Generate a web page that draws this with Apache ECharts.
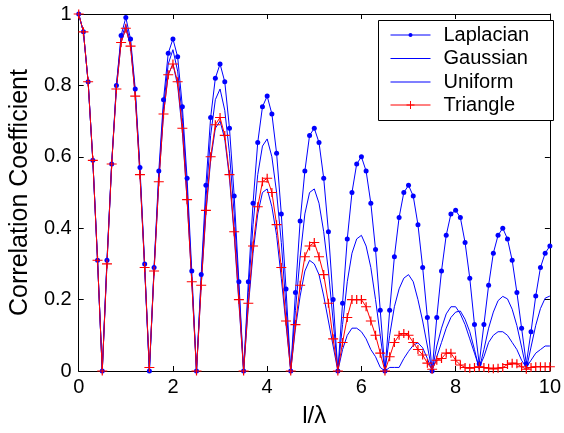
<!DOCTYPE html>
<html>
<head>
<meta charset="utf-8">
<script src="https://cdn.jsdelivr.net/npm/echarts@6/dist/echarts.min.js"></script>
<style>
html, body { margin: 0; padding: 0; background: #fff; }
#chart { width: 564px; height: 433px; }
</style>
</head>
<body>
<div id="chart"></div>
<script>
// sample positions along l/lambda, step 0.1
var steps = [];
for (var i = 0; i <= 100; i++) steps.push(i / 10);

var xTicks = ['0', '2', '4', '6', '8', '10'];
var names = ['Laplacian', 'Gaussian', 'Uniform', 'Triangle'];

var laplacian = [
	1.00,0.95,0.81,0.59,0.31,0.00,0.31,0.58,0.80,0.94,
	0.99,0.93,0.79,0.57,0.30,0.00,0.29,0.56,0.76,0.89,
	0.93,0.88,0.74,0.54,0.28,0.00,0.27,0.52,0.71,0.82,
	0.86,0.81,0.68,0.49,0.25,0.00,0.25,0.47,0.64,0.74,
	0.77,0.72,0.61,0.44,0.23,0.00,0.22,0.42,0.56,0.66,
	0.68,0.64,0.54,0.39,0.20,0.00,0.19,0.37,0.50,0.58,
	0.60,0.56,0.47,0.34,0.17,0.00,0.17,0.32,0.43,0.50,
	0.52,0.49,0.41,0.29,0.15,0.00,0.15,0.28,0.38,0.44,
	0.45,0.43,0.36,0.26,0.13,0.02,0.13,0.24,0.33,0.38,
	0.40,0.37,0.31,0.22,0.12,0.02,0.11,0.21,0.29,0.33,
	0.35
];
var gaussian = [
	1.00,0.95,0.81,0.59,0.31,0.00,0.31,0.58,0.80,0.93,
	0.97,0.92,0.78,0.56,0.29,0.00,0.29,0.54,0.74,0.86,
	0.90,0.84,0.71,0.51,0.26,0.00,0.26,0.48,0.66,0.76,
	0.79,0.73,0.61,0.44,0.23,0.00,0.22,0.41,0.55,0.63,
	0.65,0.60,0.50,0.36,0.18,0.00,0.17,0.32,0.44,0.50,
	0.51,0.47,0.39,0.28,0.14,0.00,0.13,0.25,0.33,0.37,
	0.38,0.35,0.29,0.20,0.10,0.00,0.10,0.18,0.23,0.26,
	0.27,0.25,0.20,0.14,0.07,0.00,0.07,0.12,0.16,0.18,
	0.18,0.16,0.13,0.09,0.05,0.01,0.04,0.08,0.10,0.11,
	0.11,0.10,0.08,0.06,0.03,0.01,0.03,0.05,0.06,0.07,
	0.07
];
var uniform = [
	1.00,0.95,0.81,0.59,0.31,0.00,0.30,0.58,0.79,0.92,
	0.96,0.91,0.77,0.55,0.29,0.00,0.28,0.53,0.72,0.83,
	0.86,0.80,0.67,0.48,0.25,0.00,0.24,0.44,0.59,0.68,
	0.70,0.65,0.54,0.38,0.19,0.00,0.18,0.33,0.44,0.50,
	0.51,0.46,0.38,0.26,0.13,0.00,0.12,0.21,0.28,0.31,
	0.30,0.27,0.21,0.14,0.07,0.00,0.06,0.10,0.12,0.12,
	0.11,0.09,0.06,0.04,0.01,0.00,0.01,0.01,0.01,0.035,
	0.055,0.072,0.079,0.065,0.035,0.00,0.04,0.08,0.12,0.15,
	0.165,0.168,0.145,0.11,0.06,0.005,0.06,0.12,0.165,0.197,
	0.209,0.202,0.173,0.127,0.067,0.005,0.067,0.128,0.175,0.204,
	0.21
];
var triangle = [
	1.00,0.95,0.81,0.59,0.31,0.00,0.30,0.58,0.79,0.92,
	0.96,0.91,0.77,0.55,0.29,0.01,0.28,0.53,0.72,0.83,
	0.86,0.81,0.68,0.48,0.25,0.00,0.24,0.45,0.60,0.69,
	0.71,0.66,0.55,0.39,0.20,0.00,0.19,0.35,0.46,0.53,
	0.54,0.50,0.41,0.29,0.14,0.00,0.13,0.24,0.32,0.35,
	0.36,0.32,0.27,0.19,0.09,0.00,0.08,0.15,0.20,0.20,
	0.20,0.18,0.14,0.10,0.05,0.00,0.04,0.08,0.10,0.105,
	0.10,0.08,0.06,0.045,0.022,0.005,0.03,0.035,0.05,0.05,
	0.03,0.017,0.01,0.008,0.01,0.012,0.01,0.008,0.006,0.008,
	0.01,0.018,0.022,0.02,0.012,0.005,0.01,0.012,0.012,0.012,
	0.012
];

function pairs(vals) {
	return vals.map(function (v, k) { return [steps[k], v]; });
}

var font = 'Liberation Sans, Arial, sans-serif';
var plus = 'path://M0,4.4H10V5.6H0Z M4.4,0H5.6V10H4.4Z';
var bar = 'path://M0,0H40V1H0Z';

var chart = echarts.init(document.getElementById('chart'));

function xAx(pos, labels) {
	return {
		type: 'value', position: pos, min: 0, max: 10, interval: 2,
		axisLine: { onZero: false, lineStyle: { color: '#000', width: 1 } },
		axisTick: { inside: true, length: 5, lineStyle: { color: '#000' } },
		axisLabel: {
			show: labels, margin: 6, color: '#000', fontSize: 20, fontFamily: font,
			formatter: function (v) { return xTicks[v / 2]; }
		},
		splitLine: { show: false }
	};
}
function yAx(pos, labels) {
	return {
		type: 'value', position: pos, min: 0, max: 1, interval: 0.2,
		axisLine: { onZero: false, lineStyle: { color: '#000', width: 1 } },
		axisTick: { inside: true, length: 5, lineStyle: { color: '#000' } },
		axisLabel: { show: labels, margin: 7, color: '#000', fontSize: 20, fontFamily: font },
		splitLine: { show: false }
	};
}

var xBottom = xAx('bottom', true);
xBottom.name = 'l/λ';
xBottom.nameLocation = 'middle';
xBottom.nameGap = 33;
xBottom.nameTextStyle = { color: '#000', fontSize: 24, fontFamily: font };
var yLeft = yAx('left', true);
yLeft.name = 'Correlation Coefficient';
yLeft.nameLocation = 'middle';
yLeft.nameGap = 42;
yLeft.nameTextStyle = { color: '#000', fontSize: 25, fontFamily: font };

var legendText = { color: '#000', fontSize: 20, fontFamily: font, padding: [0, 0, 0, 8] };

var option = {
	animation: false,
	backgroundColor: '#fff',
	grid: { left: 75, right: 11, top: 14, bottom: 57 },
	xAxis: [xBottom, xAx('top', false)],
	yAxis: [yLeft, yAx('right', false)],
	legend: [
		{
			data: [names[0], { name: names[1], icon: bar }, { name: names[2], icon: bar }],
			orient: 'vertical', left: 390, top: 25,
			itemWidth: 40, itemHeight: 5, itemGap: 3.5, padding: 0, z: 10,
			lineStyle: { width: 1 },
			textStyle: legendText
		},
		{
			data: names.slice(3), orient: 'vertical', left: 390, top: 95,
			itemWidth: 40, itemHeight: 10, itemGap: 3.5, padding: 0, z: 10,
			lineStyle: { width: 1 },
			textStyle: legendText
		}
	],
	graphic: [{
		type: 'rect', left: 378, top: 20, z: 5,
		shape: { width: 175, height: 100 },
		style: { fill: '#fff', stroke: '#000', lineWidth: 1 }
	}],
	series: [
		{
			name: names[0], type: 'line', data: pairs(laplacian),
			symbol: 'circle', symbolSize: 5, showAllSymbol: true,
			lineStyle: { color: '#0000ff', width: 1 },
			itemStyle: { color: '#0000ff' }
		},
		{
			name: names[1], type: 'line', data: pairs(gaussian), symbol: 'none',
			lineStyle: { color: '#0000ff', width: 1 },
			itemStyle: { color: '#0000ff' }
		},
		{
			name: names[2], type: 'line', data: pairs(uniform), symbol: 'none',
			lineStyle: { color: '#0000ff', width: 1 },
			itemStyle: { color: '#0000ff' }
		},
		{
			name: names[3], type: 'line', data: pairs(triangle),
			symbol: plus, symbolSize: [10, 9], showAllSymbol: true,
			lineStyle: { color: '#ff0000', width: 1 },
			itemStyle: { color: '#ff0000' }
		}
	]
};
chart.setOption(option);
</script>
</body>
</html>
